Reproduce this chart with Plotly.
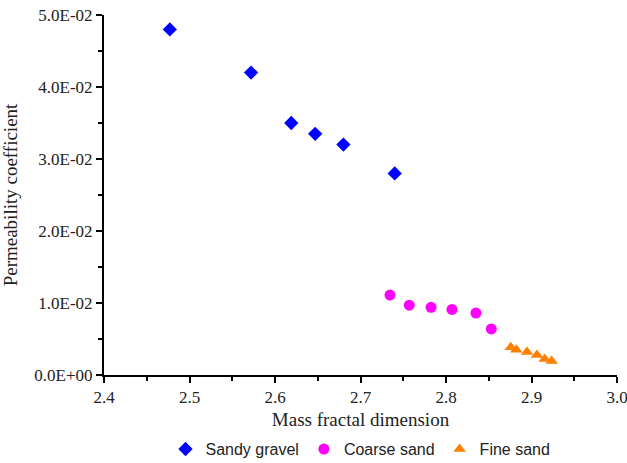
import plotly.graph_objects as go

gravel_x = [2.477, 2.572, 2.619, 2.647, 2.680, 2.740]
gravel_y = [0.0480, 0.0420, 0.0350, 0.0335, 0.0320, 0.0280]
coarse_x = [2.7345, 2.757, 2.7825, 2.807, 2.835, 2.853]
coarse_y = [0.0111, 0.0097, 0.0094, 0.0091, 0.0086, 0.0064]
fine_x = [2.8757, 2.8822, 2.8947, 2.9064, 2.9154, 2.9236]
fine_y = [0.00385, 0.0035, 0.0032, 0.00278, 0.00222, 0.00194]

x_ticks = [2.4, 2.5, 2.6, 2.7, 2.8, 2.9, 3.0]
x_tick_labels = ["2.4", "2.5", "2.6", "2.7", "2.8", "2.9", "3.0"]
y_ticks = [0.0, 0.01, 0.02, 0.03, 0.04, 0.05]
y_tick_labels = ["0.0E+00", "1.0E-02", "2.0E-02", "3.0E-02", "4.0E-02", "5.0E-02"]

fig = go.Figure()
fig.add_trace(go.Scatter(x=gravel_x, y=gravel_y, mode="markers", name="Sandy gravel",
                         marker=dict(symbol="diamond", size=11, color="#0000ff")))
fig.add_trace(go.Scatter(x=coarse_x, y=coarse_y, mode="markers", name="Coarse sand",
                         marker=dict(symbol="circle", size=11, color="#ff00ff")))
fig.add_trace(go.Scatter(x=fine_x, y=fine_y, mode="markers", name="Fine sand",
                         marker=dict(symbol="triangle-up", size=11, color="#ff8000")))

axis_common = dict(showgrid=False, zeroline=False, showline=True, linecolor="black", linewidth=2,
                   ticks="outside", ticklen=6, tickwidth=2, tickcolor="black",
                   tickfont=dict(family="Liberation Serif", size=17, color="#222"),
                   ticklabeloverflow="allow")
fig.update_xaxes(range=[2.4, 3.0], tickvals=x_ticks, ticktext=x_tick_labels,
                 minor=dict(ticks="outside", ticklen=4, tickwidth=2, tickcolor="black", dtick=0.05, tick0=2.4),
                 title=dict(text="Mass fractal dimension", font=dict(family="Liberation Serif", size=19, color="#222"), standoff=6),
                 **axis_common)
fig.update_yaxes(range=[0, 0.05], tickvals=y_ticks, ticktext=y_tick_labels,
                 minor=dict(ticks="outside", ticklen=4, tickwidth=2, tickcolor="black", dtick=0.005, tick0=0),
                 title=dict(text="Permeability coefficient", font=dict(family="Liberation Serif", size=19, color="#222"), standoff=12),
                 **axis_common)

fig.update_layout(
    width=627, height=463,
    margin=dict(l=104, r=10, t=15, b=88, autoexpand=False),
    plot_bgcolor="white", paper_bgcolor="white",
    legend=dict(orientation="h", x=0.5, xanchor="center", yref="container", y=0.03, yanchor="middle",
                font=dict(family="Liberation Sans", size=16, color="#222"),
                itemwidth=30, tracegroupgap=0),
)
fig.write_html("out.html")
